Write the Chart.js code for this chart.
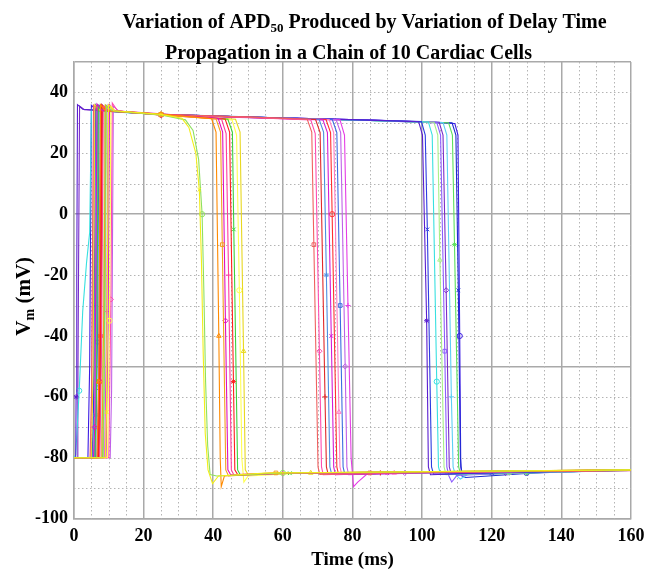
<!DOCTYPE html>
<html>
<head>
<meta charset="utf-8">
<script src="https://cdn.jsdelivr.net/npm/chart.js@4.4.1/dist/chart.umd.min.js"></script>
<style>
  html, body { margin: 0; padding: 0; background: #ffffff; }
  #wrap { width: 647px; height: 571px; }
</style>
</head>
<body>
<div id="wrap"><canvas id="c" width="647" height="571"></canvas></div>
<script>
// ---- Axis tick labels ----
const xTickLabels = [0, 20, 40, 60, 80, 100, 120, 140, 160];
const yTickLabels = [40, 20, 0, -20, -40, -60, -80, -100];

// ---- Traces: [time (ms), Vm (mV)] ----
// Delay group 1 (repolarisation around 37-49 ms)
const group1 = [
  [[0,-80],[9.0,-80],[9.35,-65],[9.9,36],[11.5,34],[25,32.8],[31,31.5],[33,28.5],[35,20],[36,8],[36.6,-15],[37.1,-45],[37.7,-72],[38.5,-84],[39.8,-88.5],[41.5,-86],[55,-85],[160,-84]],
  [[0,-80],[8.4,-80],[8.95,-30],[9.3,35.5],[11,34],[25,32.6],[32,31],[34.2,27.5],[35.8,18],[36.8,0],[37.3,-25],[37.8,-55],[38.4,-76],[39.1,-85.5],[41,-86],[60,-85],[160,-84]],
  [[0,-80],[6.6,-80],[7.1,-55],[7.6,36],[9,34],[25,32.9],[39.5,31.4],[40.8,27],[41.6,-40],[42.0,-80],[42.3,-89.5],[43.2,-86],[56,-85],[160,-84.2]],
  [[0,-80],[8.0,-80],[8.7,-20],[9.0,35.8],[10.5,34],[25,32.7],[40.8,31.3],[42.1,27],[42.6,-10],[43.6,-84],[44.4,-86],[58,-85],[160,-84]],
  [[0,-80],[5.6,-80],[5.95,-70],[6.6,36.2],[8,34.2],[25,33],[41.4,31.5],[42.7,27],[43.5,-35],[44.2,-84],[45,-85.6],[62,-85],[160,-84.1]],
  [[0,-80],[7.4,-80],[7.9,-45],[8.4,35.5],[10,34],[25,32.6],[42.4,31.2],[43.7,26.5],[44.4,-20],[45.2,-84],[46,-85.8],[60,-85.2],[160,-84.3]],
  [[0,-80],[7.0,-80],[7.6,-40],[8.0,36],[9.5,34.1],[25,32.8],[43.4,31.3],[44.7,27],[45.8,-55],[46.2,-84],[47,-85.5],[64,-85],[160,-84]],
  [[0,-80],[6.0,-80],[6.45,-60],[7.0,35.7],[8.5,34],[25,32.7],[44.2,31.2],[45.5,27],[45.9,-5],[47,-84],[47.8,-85.7],[62,-85.1],[160,-84.2]],
  [[0,-80],[9.6,-80],[10.2,-35],[10.6,35.5],[12,33.8],[25,32.5],[45.4,31],[46.7,26],[47.5,-25],[48.2,-80],[48.8,-88],[50,-86],[66,-85],[160,-84]],
  [[0,-80],[5.0,-80],[5.5,-50],[6.0,36],[7.5,34.2],[25,32.9],[46.4,31.2],[47.7,27],[48.7,-45],[49.2,-84],[50,-85.5],[68,-85],[160,-84.1]]
];
// Delay group 2 (repolarisation around 68-80 ms)
const group2 = [
  [[0,-80],[4.6,-80],[5.0,-62],[5.6,35.8],[7,34],[25,32.8],[50,31.9],[67,31.2],[68.3,27],[68.9,-10],[70.1,-83],[70.6,-85.5],[85,-85],[160,-84]],
  [[0,-80],[10.0,-80],[10.6,-28],[11.0,36.5],[12.5,34],[25,32.6],[50,31.8],[68,31],[69.3,26.5],[70.5,-45],[71.1,-83],[71.6,-85.6],[90,-85],[160,-84.1]],
  [[0,-80],[7.2,-80],[7.7,-48],[8.2,35.6],[9.7,34],[25,32.7],[50,31.9],[69.4,31.1],[70.7,26.8],[72.1,-60],[72.5,-83],[73,-85.4],[88,-85],[160,-84]],
  [[0,-80],[5.8,-80],[6.2,-66],[6.8,35.9],[8.3,34],[25,32.8],[50,32],[70.4,31.2],[71.7,27],[72.5,-20],[73.5,-83],[74,-85.3],[92,-85],[160,-84.2]],
  [[0,-80],[9.2,-80],[9.8,-38],[10.2,36],[11.7,34],[25,32.6],[50,31.8],[71.5,31],[72.8,26.8],[73.9,-40],[74.6,-83],[75.1,-85.6],[90,-85.1],[160,-84]],
  [[0,-80],[6.8,-80],[7.3,-55],[7.8,35.6],[9.3,34],[25,32.7],[50,31.9],[72.4,31.1],[73.7,26.8],[74.15,0],[75.5,-83],[76,-85.5],[94,-85],[160,-84.1]],
  [[0,-80],[4.8,-80],[5.4,-25],[5.8,35.4],[7.3,34],[25,32.8],[50,31.9],[73.3,31.1],[74.6,26.8],[76.1,-65],[76.4,-83],[76.9,-85.4],[92,-85],[160,-84]],
  [[0,-80],[6.2,-80],[6.75,-42],[7.2,35.8],[8.7,34],[25,32.7],[50,31.9],[74.2,31.1],[75.5,26.8],[76.45,-30],[77.3,-83],[77.8,-85.5],[96,-85],[160,-84.2]],
  [[0,-80],[10.4,-80],[10.8,-58],[11.3,35.5],[12.8,33.9],[25,32.5],[50,31.7],[75.3,31],[76.6,26.8],[77.9,-50],[78.4,-83],[78.9,-85.6],[95,-85],[160,-84]],
  [[0,-80],[8.8,-80],[9.4,-32],[9.8,35.8],[11.3,34],[25,32.6],[50,31.8],[76.4,31],[77.7,26],[78.7,-30],[79.6,-80],[80.3,-89.5],[81.5,-88],[84,-85.5],[100,-85],[160,-84]]
];
// Delay group 3 (repolarisation around 100-112 ms)
const group3 = [
  [[0,-80],[0.5,-80],[0.6,-60],[0.8,-19],[1.0,36],[2.5,34.5],[25,32.8],[50,31.9],[85,30.9],[99,30.4],[100.1,26],[101.3,-35],[101.8,-83],[102.4,-85.6],[118,-85],[160,-84]],
  [[0,-80],[5.2,-80],[5.6,-64],[6.2,36],[7.7,34],[25,32.7],[50,31.9],[85,30.9],[99.8,30.4],[100.9,26],[101.5,-5],[102.7,-83],[103.3,-85.4],[120,-85],[160,-84.1]],
  [[0,-80],[0.5,-79],[1.5,-58],[2.5,-32],[3.6,-16],[4.5,-6],[5.0,34.5],[7,33.8],[25,32.8],[50,31.9],[85,30.8],[101.8,30.3],[102.9,26],[104.2,-55],[104.7,-83],[105.3,-85.5],[122,-85],[160,-84]],
  [[0,-80],[7.8,-80],[8.4,-36],[8.8,35.5],[10.3,33.9],[25,32.6],[50,31.8],[85,30.8],[103.4,30.2],[104.5,26],[105.1,-15],[106.3,-83],[106.9,-85.6],[125,-85],[160,-84]],
  [[0,-80],[6.6,-80],[7.05,-57],[7.6,35.8],[9.1,34],[25,32.7],[50,31.9],[85,30.9],[104.2,30.2],[105.3,26],[106.5,-45],[107.1,-83],[107.7,-86],[108.5,-88],[110,-85.8],[126,-85],[160,-84.1]],
  [[0,-80],[0.9,-80],[1.1,-60],[1.3,-20],[1.6,35.5],[3,34.3],[25,32.8],[50,31.9],[85,30.9],[104.9,30.2],[106,26],[106.9,-25],[107.8,-83],[108.4,-85.5],[124,-85],[160,-84]],
  [[0,-80],[5.5,-80],[6.1,-30],[6.5,35.5],[8,34],[25,32.7],[50,31.9],[85,30.8],[106,30.1],[107.1,26],[108.4,-60],[108.9,-83],[109.5,-85.4],[111,-87],[113,-85.5],[128,-85],[160,-84.2]],
  [[0,-80],[8.2,-80],[8.6,-62],[9.2,35.8],[10.7,34],[25,32.6],[50,31.8],[85,30.8],[107.6,30],[108.7,26],[109.3,-10],[110.5,-83],[111.1,-85.6],[130,-85],[160,-84]],
  [[0,-80],[7.0,-80],[7.6,-40],[8.0,36],[9.5,34],[25,32.7],[50,31.9],[85,30.8],[108.6,30],[109.7,26],[110.4,-25],[111,-80],[111.4,-86],[112.5,-86.5],[132,-85],[160,-84]],
  [[0,-80],[4.0,-80],[4.5,-50],[5.0,35.8],[6.5,34.2],[25,32.8],[50,31.9],[85,30.8],[109.4,29.8],[110.3,26],[110.8,-40],[111.1,-83],[111.6,-85.5],[130,-85],[160,-84]]
];

// ---- Styles ----
const colors1 = ['#f2ee1a','#8ee060','#ff8a00','#f4a020','#e010c0','#ff3c9c','#ff1e1e','#3cd23c','#ffff50','#e8d820'];
const colors2 = ['#f06060','#ff4cb0','#e02a2a','#4c8ee0','#d41cd4','#ff3030','#ff7cc4','#3c6ce0','#c060e8','#e63ce6'];
const colors3 = ['#5a1ed0','#2c3ce0','#38e0e0','#a8f088','#8c5cff','#7a2cc8','#5cd0f4','#5ce05c','#1c2cd0','#3c1ce4'];
const markerStyles = ['crossRot','circle','triangle','rect','rectRot','cross','star'];

const datasets = [];
[[group1, colors1], [group2, colors2], [group3, colors3]].forEach(([grp, cols], gi) => {
  grp.forEach((trace, i) => {
    const n = trace.length;
    // index of the upstroke mid point, the plateau point and the repolarisation mid point
    let upIdx = trace.findIndex((p, k) => k > 1 && p[1] > -80 && p[1] < 30);
    let dropIdx = -1;
    for (let k = n - 1; k > 2; k--) { if (trace[k][1] < 10 && trace[k][1] > -70 && trace[k - 1][1] > 10) { dropIdx = k; break; } }
    const plateauIdx = trace.findIndex(p => p[0] === 25);
    const marked = new Set([dropIdx]);
    if ((i + gi) % 2 === 0) marked.add(upIdx);
    if ((i + gi) % 3 === 0) marked.add(plateauIdx);
    if ((i + gi) % 2 === 1) marked.add(n - 2);
    datasets.push({
      data: trace,
      borderColor: cols[i],
      borderWidth: 1.1,
      tension: 0,
      fill: false,
      showLine: true,
      pointStyle: markerStyles[(i + gi * 3) % markerStyles.length],
      pointBorderColor: cols[i],
      pointBackgroundColor: 'rgba(0,0,0,0)',
      pointBorderWidth: 1,
      pointRadius: (ctx) => marked.has(ctx.dataIndex) ? 2.6 : 0
    });
  });
});

const GRID_MAJOR = '#a9a9a9';
const GRID_MINOR = '#b4b4b4';
const SERIF = '"Liberation Serif", "Times New Roman", "DejaVu Serif", serif';

const minorGrid = {
  id: 'minorGrid',
  beforeDatasetsDraw(chart) {
    const { ctx, chartArea: a, scales: { x, y } } = chart;
    ctx.save();
    ctx.strokeStyle = GRID_MINOR;
    ctx.lineWidth = 1;
    ctx.setLineDash([1.5, 2.5]);
    x.ticks.forEach(t => {
      if (t.value % 20 !== 0) {
        const px = Math.round(x.getPixelForValue(t.value)) + 0.5;
        ctx.beginPath(); ctx.moveTo(px, a.top); ctx.lineTo(px, a.bottom); ctx.stroke();
      }
    });
    y.ticks.forEach(t => {
      if (t.value % 50 !== 0) {
        const py = Math.round(y.getPixelForValue(t.value)) + 0.5;
        ctx.beginPath(); ctx.moveTo(a.left, py); ctx.lineTo(a.right, py); ctx.stroke();
      }
    });
    ctx.restore();
  }
};

function richWidth(ctx, parts) {
  let w = 0;
  parts.forEach(p => { ctx.font = 'bold ' + p.s + 'px ' + SERIF; w += ctx.measureText(p.t).width; });
  return w;
}
function drawRich(ctx, parts, x0, base) {
  let x = x0;
  parts.forEach(p => {
    ctx.font = 'bold ' + p.s + 'px ' + SERIF;
    ctx.fillText(p.t, x, base + (p.dy || 0));
    x += ctx.measureText(p.t).width;
  });
}

const titles = {
  id: 'titles',
  afterDraw(chart) {
    const { ctx, chartArea: a } = chart;
    const cx = (a.left + a.right) / 2;
    ctx.save();
    ctx.fillStyle = '#000';
    ctx.textAlign = 'left';
    ctx.textBaseline = 'alphabetic';
    const line1 = [
      { t: 'Variation of APD', s: 20 },
      { t: '50', s: 13, dy: 4 },
      { t: ' Produced by Variation of Delay Time', s: 20 }
    ];
    const line2 = [{ t: 'Propagation in a Chain of 10 Cardiac Cells', s: 20 }];
    const w1 = richWidth(ctx, line1);
    drawRich(ctx, line1, cx + 12 - w1 / 2, 28);
    const w2 = richWidth(ctx, line2);
    drawRich(ctx, line2, cx - 4 - w2 / 2, 59);

    // y-axis title with subscript
    const ylab = [
      { t: 'V', s: 21 },
      { t: 'm', s: 14, dy: 4 },
      { t: ' (mV)', s: 21 }
    ];
    const cy = (a.top + a.bottom) / 2 + 6;
    ctx.translate(30, cy);
    ctx.rotate(-Math.PI / 2);
    const wy = richWidth(ctx, ylab);
    drawRich(ctx, ylab, -wy / 2, 0);
    ctx.restore();
  }
};

new Chart(document.getElementById('c'), {
  type: 'line',
  data: { datasets },
  plugins: [minorGrid, titles],
  options: {
    responsive: false,
    animation: false,
    events: [],
    layout: { padding: { top: 62, right: 16, left: 29, bottom: 0 } },
    plugins: { legend: { display: false }, tooltip: { enabled: false }, title: { display: false } },
    scales: {
      x: {
        type: 'linear',
        min: 0, max: 160,
        afterFit: (s) => { s.paddingRight = 0; },
        ticks: {
          stepSize: 5,
          autoSkip: false,
          maxRotation: 0,
          padding: 7,
          color: '#000',
          font: { family: SERIF, size: 18, weight: 'bold' },
          callback: (v) => xTickLabels.includes(v) ? String(v) : ''
        },
        grid: {
          drawTicks: false,
          tickLength: 0,
          lineWidth: 1.5,
          color: (c) => (c.tick && c.tick.value % 20 === 0) ? GRID_MAJOR : 'rgba(0,0,0,0)'
        },
        border: { color: GRID_MAJOR, width: 1.5 },
        title: {
          display: true,
          text: 'Time (ms)',
          color: '#000',
          font: { family: SERIF, size: 19, weight: 'bold' },
          padding: { top: -6, bottom: 0 }
        }
      },
      y: {
        type: 'linear',
        min: -100, max: 50,
        ticks: {
          stepSize: 10,
          autoSkip: false,
          padding: 6,
          color: '#000',
          font: { family: SERIF, size: 18, weight: 'bold' },
          callback: (v) => yTickLabels.includes(v) ? String(v) : ''
        },
        grid: {
          drawTicks: false,
          tickLength: 0,
          lineWidth: 1.5,
          color: (c) => (c.tick && c.tick.value % 50 === 0) ? GRID_MAJOR : 'rgba(0,0,0,0)'
        },
        border: { color: GRID_MAJOR, width: 1.5 }
      }
    }
  }
});
</script>
</body>
</html>
